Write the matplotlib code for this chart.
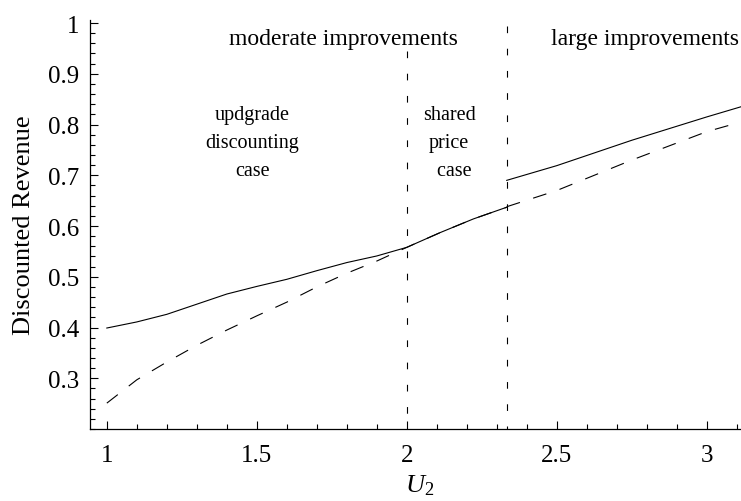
import numpy as np
import matplotlib
matplotlib.use("Agg")
import matplotlib.pyplot as plt
from matplotlib.ticker import MultipleLocator

plt.rcParams['font.family'] = ['Liberation Serif', 'DejaVu Serif']
plt.rcParams['mathtext.fontset'] = 'custom'
plt.rcParams['mathtext.rm'] = 'Liberation Serif'
plt.rcParams['mathtext.it'] = 'Liberation Serif:italic'

# upgrade discounting case (1 <= U2 <= 2)
u_low = [1.0, 1.1, 1.2, 1.3, 1.4, 1.5, 1.6, 1.7, 1.8, 1.9, 2.0]
solid_low = [0.399, 0.411, 0.426, 0.446, 0.466, 0.481, 0.495, 0.512, 0.528, 0.541, 0.558]
dashed_low = [0.251, 0.297, 0.332, 0.365, 0.395, 0.423, 0.450, 0.480, 0.507, 0.531, 0.558]

# shared price case (2 <= U2 <= 7/3), both curves coincide
u_mid = [2.0, 2.111, 2.222, 2.333]
shared_mid = [0.558, 0.587, 0.614, 0.637]

# large improvements (U2 >= 7/3)
u_high = [2.333, 2.5, 2.75, 3.0, 3.114]
solid_high = [0.690, 0.719, 0.769, 0.815, 0.835]
dashed_high = [0.638, 0.670, 0.730, 0.786, 0.805]

boundaries = [2.0, 7 / 3]

fig = plt.figure(figsize=(7.41, 5.02), dpi=100)
ax = fig.add_axes([0.1215, 0.1434, 0.8785, 0.8148])

lw = 0.8
dash = (0, (12.5, 12.5))
ax.plot(u_low + u_mid[1:], dashed_low + shared_mid[1:], color='black', lw=lw, linestyle=dash)
ax.plot(u_high, dashed_high, color='black', lw=lw, linestyle=dash)
ax.plot(u_low + u_mid[1:], solid_low + shared_mid[1:], color='black', lw=lw)
ax.plot(u_high, solid_high, color='black', lw=lw)

# region boundaries
vdash = (0, (6, 14))
ax.plot([boundaries[0]] * 2, [0.945, 0.2], color='black', lw=lw, linestyle=vdash)
ax.plot([boundaries[1]] * 2, [0.995, 0.2], color='black', lw=lw, linestyle=vdash)

ax.text(1.788, 0.959, 'moderate improvements', fontsize=17, ha='center', va='baseline')
ax.text(2.482, 0.959, 'large improvements', fontsize=17, ha='left', va='baseline',
        clip_on=False)
ax.text(1.486, 0.764, 'updgrade\ndiscounting\ncase', fontsize=14.5, ha='center',
        va='center', linespacing=1.65)
ax.text(2.141, 0.764, 'shared\nprice\n  case', fontsize=14.5, ha='center',
        va='center', linespacing=1.65)

ax.set_xlim(0.944, 3.114)
ax.set_ylim(0.2, 1.006)

for side in ['top', 'right']:
    ax.spines[side].set_visible(False)
for side in ['left', 'bottom']:
    ax.spines[side].set_linewidth(0.9)

ax.xaxis.set_minor_locator(MultipleLocator(0.1))
ax.yaxis.set_minor_locator(MultipleLocator(0.02))
ax.set_xticks([1, 1.5, 2, 2.5, 3])
ax.set_xticklabels(['1', '1.5', '2', '2.5', '3'])
ax.set_yticks([0.3, 0.4, 0.5, 0.6, 0.7, 0.8, 0.9, 1.0])
ax.set_yticklabels(['0.3', '0.4', '0.5', '0.6', '0.7', '0.8', '0.9', '1'])
ax.tick_params(which='both', direction='in', width=0.8, labelsize=18)
ax.tick_params(which='major', length=6)
ax.tick_params(axis='x', which='major', pad=11)
ax.tick_params(axis='y', which='major', pad=8)
ax.tick_params(which='minor', length=3.5)

ax.set_xlabel('$U_2$', fontsize=19, labelpad=4)
ax.xaxis.set_label_coords(0.507, -0.105)
ax.set_ylabel('Discounted Revenue', fontsize=19, labelpad=9)

fig.savefig('out.png', dpi=100)
